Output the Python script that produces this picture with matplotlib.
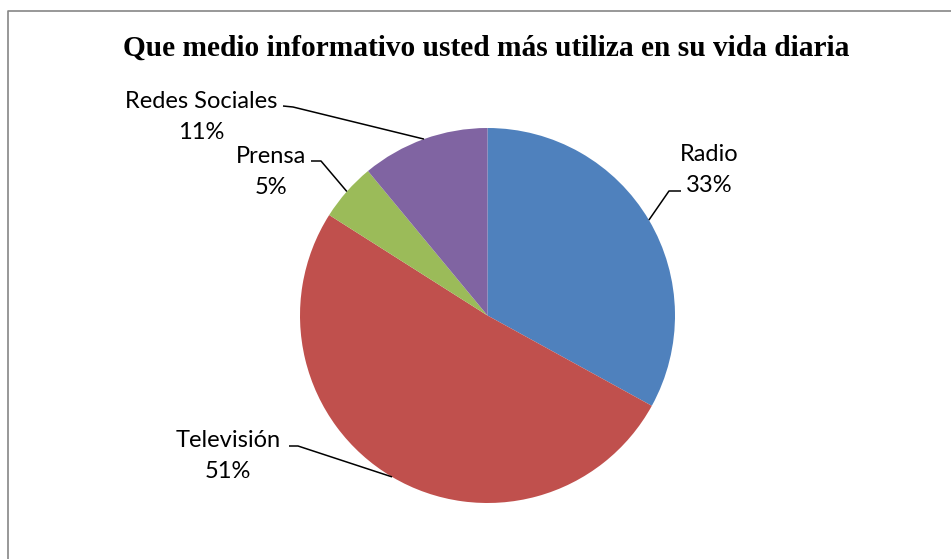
import numpy as np
import matplotlib
matplotlib.use("Agg")
import matplotlib.pyplot as plt
from matplotlib.lines import Line2D

# datos
categorias = ["Radio", "Televisión", "Prensa", "Redes Sociales"]
porcentajes = [33, 51, 5, 11]
colores = ["#4F81BD", "#C0504D", "#9BBB59", "#8064A2"]
titulo = "Que medio informativo usted más utiliza en su vida diaria"

W, H = 951, 559
fig = plt.figure(figsize=(W / 100, H / 100), dpi=100)
ax = fig.add_axes([0, 0, 1, 1])

cx, cy, r = 487.5, H - 315.5, 187.5
wedges, _ = ax.pie(porcentajes, colors=colores, startangle=90, counterclock=False,
                   center=(cx, cy), radius=r, frame=True,
                   wedgeprops=dict(linewidth=0))
ax.set_xlim(0, W)
ax.set_ylim(0, H)
ax.set_aspect("equal")
ax.axis("off")

# posicion de etiquetas (x, y en pixeles desde arriba), extremo y codo de la guia
etiquetas = {
    "Radio": dict(txt=(709, 170), punta=(681, 191), codo=(669, 191)),
    "Televisión": dict(txt=(228, 456), punta=(289, 446), codo=(298, 446)),
    "Prensa": dict(txt=(271, 172), punta=(311, 161), codo=(321, 161)),
    "Redes Sociales": dict(txt=(201, 117), punta=(283, 106), codo=(293, 107)),
}

for w, cat, p in zip(wedges, categorias, porcentajes):
    e = etiquetas[cat]
    ang = np.deg2rad((w.theta1 + w.theta2) / 2)
    px, py = cx + r * np.cos(ang), cy + r * np.sin(ang)
    ax.plot([e["punta"][0], e["codo"][0], px],
            [H - e["punta"][1], H - e["codo"][1], py],
            color="black", lw=1.1, solid_capstyle="butt")
    ax.text(e["txt"][0], H - e["txt"][1], f"{cat}\n{p}%", ha="center", va="center",
            fontsize=17, family="Lato", linespacing=1.6)

ax.text(486, H - 48, titulo, ha="center", va="center", fontsize=21.2,
        fontweight="bold", family="Liberation Serif")

# marco del grafico
fig.add_artist(Line2D([7.5 / W, 7.5 / W, 1.0], [0, 1 - 10.5 / H, 1 - 10.5 / H],
                      transform=fig.transFigure, color="#868686", lw=1.2))

fig.savefig("out.png", dpi=100, facecolor="white")
